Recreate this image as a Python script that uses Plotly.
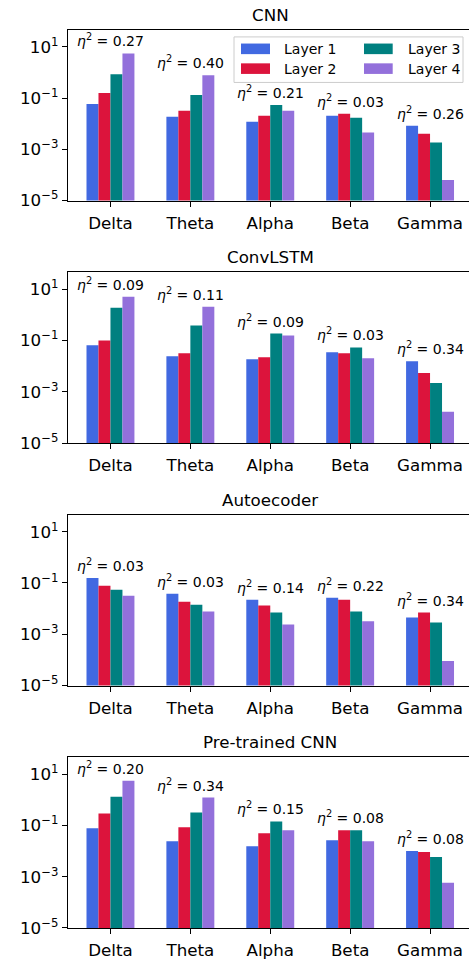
import numpy as np
import plotly.graph_objects as go

# Frequency bands on the x axis and the four encoder layers per band
bands = ["Delta", "Theta", "Alpha", "Beta", "Gamma"]
layers = ["Layer 1", "Layer 2", "Layer 3", "Layer 4"]
layer_colors = ["#4169E1", "#DC143C", "#008080", "#9370DB"]
models = ["CNN", "ConvLSTM", "Autoecoder", "Pre-trained CNN"]

# Values per layer (rows) across bands (columns)
cnn_vals = [
    [0.059, 0.0187, 0.0119, 0.0204, 0.0084],
    [0.158, 0.0318, 0.0204, 0.0243, 0.0041],
    [0.85, 0.132, 0.054, 0.0171, 0.00185],
    [5.5, 0.78, 0.0318, 0.0045, 6.3e-5],
]
convlstm_vals = [
    [0.065, 0.0243, 0.0186, 0.0348, 0.0156],
    [0.101, 0.0318, 0.0223, 0.0318, 0.0054],
    [1.9, 0.384, 0.188, 0.054, 0.0022],
    [5.06, 2.08, 0.158, 0.0204, 1.67e-4],
]
autoencoder_vals = [
    [0.158, 0.038, 0.0223, 0.0266, 0.0045],
    [0.0775, 0.0186, 0.0131, 0.0223, 0.0070],
    [0.054, 0.0143, 0.0070, 0.0077, 0.0029],
    [0.0318, 0.0077, 0.0024, 0.0032, 9.0e-5],
]
pretrained_vals = [
    [0.0775, 0.0243, 0.0156, 0.0266, 0.0100],
    [0.294, 0.0845, 0.0496, 0.0647, 0.0092],
    [1.33, 0.321, 0.144, 0.0647, 0.0059],
    [5.5, 1.22, 0.0647, 0.0243, 5.8e-4],
]

# Effect sizes per band
cnn_eta = [0.27, 0.40, 0.21, 0.03, 0.26]
convlstm_eta = [0.09, 0.11, 0.09, 0.03, 0.34]
autoencoder_eta = [0.03, 0.03, 0.14, 0.22, 0.34]
pretrained_eta = [0.20, 0.34, 0.15, 0.08, 0.08]

ytick_vals = [1e-5, 1e-3, 1e-1, 1e1]
ytick_text = ["10<sup>\u22125</sup>", "10<sup>\u22123</sup>", "10<sup>\u22121</sup>", "10<sup>1</sup>"]

all_vals = [cnn_vals, convlstm_vals, autoencoder_vals, pretrained_vals]
all_eta = [cnn_eta, convlstm_eta, autoencoder_eta, pretrained_eta]

W, H = 469, 966
FONT = "DejaVu Sans"
panel_bottoms_px = [202.7, 447.7, 692.7, 937.7]
panel_h_px = 172.5
left_px = 67.8

fig = go.Figure()
annotations = []
shapes = []

for p, (model, vals, eta) in enumerate(zip(models, all_vals, all_eta)):
    sfx = "" if p == 0 else str(p + 1)
    for li, (name, col) in enumerate(zip(layers, layer_colors)):
        fig.add_trace(go.Bar(
            x=bands, y=vals[li], name=name, marker=dict(color=col, line=dict(width=0)),
            xaxis="x" + sfx, yaxis="y" + sfx, showlegend=False,
        ))
    bot = panel_bottoms_px[p]
    top = bot - panel_h_px
    fig.layout["xaxis" + sfx] = dict(
        domain=[left_px / W, 1.0], anchor="y" + sfx, type="category",
        categoryorder="array", categoryarray=bands,
        range=[-0.534, 4.4875], showline=True, mirror=True, linecolor="black", linewidth=1,
        ticks="outside", ticklen=5, tickcolor="black", tickwidth=1, ticklabelstandoff=2,
        tickfont=dict(family=FONT, size=16.7, color="black"), showgrid=False, zeroline=False,
    )
    fig.layout["yaxis" + sfx] = dict(
        domain=[1 - bot / H, 1 - top / H], anchor="x" + sfx, type="log",
        range=[-5, 1.66], showline=True, linecolor="black", linewidth=1,
        ticks="outside", ticklen=5, tickcolor="black", tickwidth=1,
        tickvals=ytick_vals, ticktext=ytick_text,
        tickfont=dict(family=FONT, size=16.7, color="black"), showgrid=False, zeroline=False,
    )
    # panel title
    annotations.append(dict(
        text=model, xref="x" + sfx, yref="y" + sfx + " domain", x=2, y=1, yshift=15,
        xanchor="center", yanchor="middle", showarrow=False,
        font=dict(family=FONT, size=16.7, color="black"),
    ))
    # effect-size labels over each band group
    for bi, band in enumerate(bands):
        peak = max(vals[li][bi] for li in range(4))
        annotations.append(dict(
            text=f"<i>\u03b7</i><sup>2</sup> = {eta[bi]:.2f}", xref="x" + sfx, yref="y" + sfx,
            x=bi, y=np.log10(peak), yshift=2, xanchor="center", yanchor="bottom",
            showarrow=False, font=dict(family=FONT, size=14, color="black"),
        ))


def px_x(v):
    return v / W


def px_y(v):
    return 1 - v / H


# legend box in the first panel
shapes.append(dict(
    type="rect", xref="paper", yref="paper", x0=px_x(234), x1=px_x(463), y0=px_y(83.3), y1=px_y(37.3),
    line=dict(color="#cccccc", width=1), fillcolor="rgba(255,255,255,0.8)", layer="above",
))
leg_cols = [(241, 270, 281.7), (364, 392.7, 405.7)]
leg_rows = [(44, 54.7), (64, 74.7)]
for li, (name, col) in enumerate(zip(layers, layer_colors)):
    c = li // 2
    r = li % 2
    x0, x1, xt = leg_cols[c]
    y0, y1 = leg_rows[r]
    shapes.append(dict(
        type="rect", xref="paper", yref="paper", x0=px_x(x0), x1=px_x(x1), y0=px_y(y1), y1=px_y(y0),
        line=dict(width=0), fillcolor=col, layer="above",
    ))
    annotations.append(dict(
        text=name, xref="paper", yref="paper", x=px_x(xt), y=px_y((y0 + y1) / 2),
        xanchor="left", yanchor="middle", showarrow=False,
        font=dict(family=FONT, size=14, color="black"),
    ))

fig.update_layout(
    width=W, height=H, margin=dict(l=0, r=0, t=0, b=0),
    paper_bgcolor="white", plot_bgcolor="white",
    barmode="group", bargap=0.4, bargroupgap=0,
    annotations=annotations, shapes=shapes, showlegend=False,
)

fig.write_html("out.html")
